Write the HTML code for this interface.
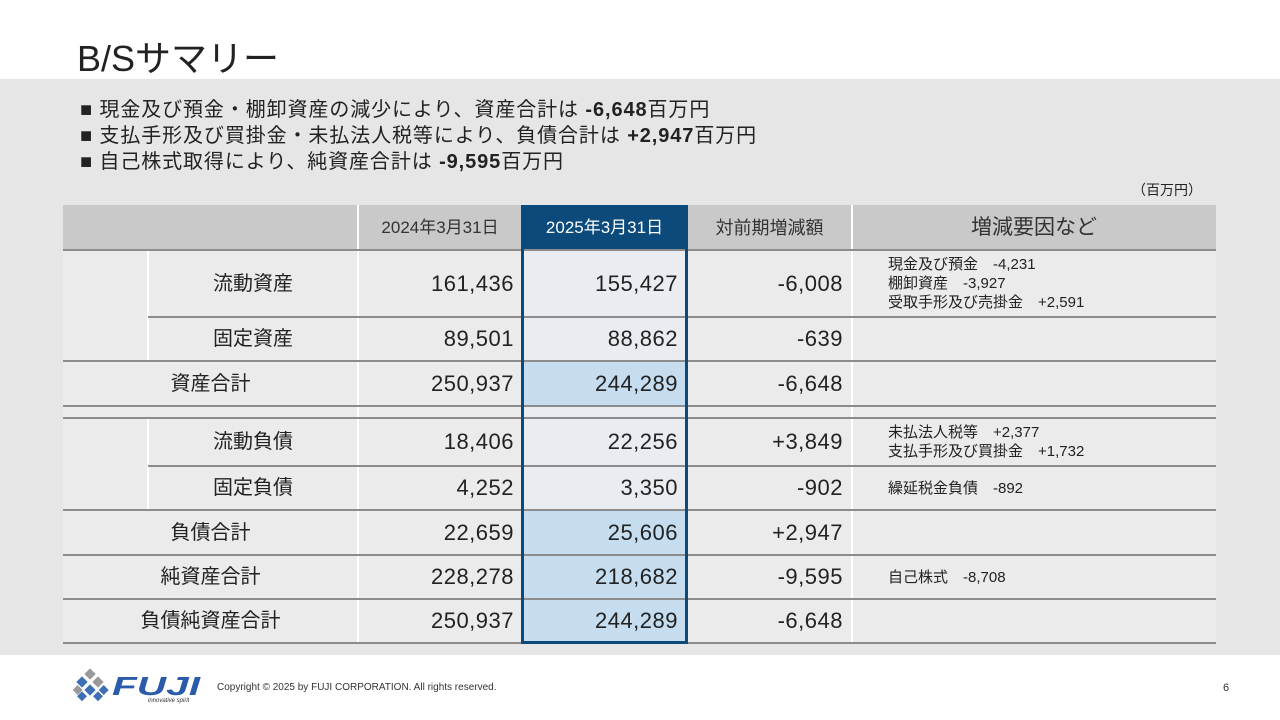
<!DOCTYPE html>
<html><head><meta charset="utf-8">
<style>
body{margin:0;width:1280px;height:720px;background:#fff;position:relative;overflow:hidden;font-family:"Liberation Sans","Noto Sans CJK JP",sans-serif;color:#222}
.a{position:absolute}
.c{position:absolute;box-sizing:border-box;display:flex;align-items:center;font-size:20px;line-height:1}
</style></head><body>
<div class="a" style="left:77px;top:30px;font-size:36px;color:#222">B/Sサマリー</div>
<div class="a" style="left:0;top:79px;width:1280px;height:576px;background:#e6e6e6"></div>
<div class="a" style="left:80px;top:97px;font-size:20px;letter-spacing:0.9px;line-height:26px;color:#222">
<div>■ 現金及び預金・棚卸資産の減少により、資産合計は <b style="font-weight:600">-6,648</b>百万円</div>
<div>■ 支払手形及び買掛金・未払法人税等により、負債合計は <b style="font-weight:600">+2,947</b>百万円</div>
<div>■ 自己株式取得により、純資産合計は <b style="font-weight:600">-9,595</b>百万円</div>
</div>
<div class="a" style="left:1132px;top:180px;font-size:14px">（百万円）</div>
<div id="tbl"></div>
<div class="a" style="left:72px;top:668px;width:130px;height:36px">
<svg width="130" height="36">
<g fill="#3c6fb4"><rect x="14" y="2" width="8" height="8" transform="rotate(45 18 6)" fill="#999"/><rect x="6" y="10" width="8" height="8" transform="rotate(45 10 14)"/><rect x="22" y="10" width="8" height="8" transform="rotate(45 26 14)" fill="#999"/><rect x="14" y="18" width="8" height="8" transform="rotate(45 18 22)"/><rect x="2" y="18" width="7" height="7" transform="rotate(45 5 22)" fill="#999"/><rect x="28" y="18" width="7" height="7" transform="rotate(45 31 22)"/><rect x="6" y="25" width="7" height="7" transform="rotate(45 10 29)"/><rect x="22" y="25" width="7" height="7" transform="rotate(45 26 29)"/></g>
<text x="40" y="27" font-size="26" font-weight="bold" font-style="italic" fill="#2a5caa" font-family="Liberation Sans" textLength="88" lengthAdjust="spacingAndGlyphs">FUJI</text>
<text x="76" y="34" font-size="6" font-style="italic" fill="#333" font-family="Liberation Sans">innovative spirit</text>
</svg></div>
<div class="a" style="left:217px;top:682px;font-size:10px;color:#333">Copyright © 2025 by FUJI CORPORATION. All rights reserved.</div>
<div class="a" style="left:1223px;top:682px;font-size:11px;color:#333">6</div>
<script>
const cols=[63,148,358,522,687,852,1216];
const headers=["","2024年3月31日","2025年3月31日","対前期増減額","増減要因など"];
const labels=["流動資産","固定資産","資産合計","","流動負債","固定負債","負債合計","純資産合計","負債純資産合計"];
const v2024=["161,436","89,501","250,937","","18,406","4,252","22,659","228,278","250,937"];
const v2025=["155,427","88,862","244,289","","22,256","3,350","25,606","218,682","244,289"];
const diffs=["-6,008","-639","-6,648","","+3,849","-902","+2,947","-9,595","-6,648"];
const factors=[["現金及び預金　-4,231","棚卸資産　-3,927","受取手形及び売掛金　+2,591"],[],[],[],["未払法人税等　+2,377","支払手形及び買掛金　+1,732"],["繰延税金負債　-892"],[],["自己株式　-8,708"],[]];
const sub=[1,1,0,2,1,1,0,0,0];
const rowY=[250,317,361,406,418,466,510,555,599,643];
const T=document.getElementById('tbl');
function d(style,text,name){const e=document.createElement('div');e.className='c';e.style.cssText=style;if(text!==undefined)e.textContent=text;


T.appendChild(e);return e;}
d(`left:63px;top:205px;width:1153px;height:45px;background:#c9c9c9`,undefined,'header-row');
headers.forEach((h,i)=>{const x0=i==0?cols[0]:cols[i+1],x1=cols[i+2];
d(`left:${x0}px;top:205px;width:${x1-x0}px;height:45px;justify-content:center;font-size:${i==4?21:(i==3?18:17)}px;${i==2?'background:#0b4a7a;color:#fff;':'color:#333;'}`,h,'header-cell');});
labels.forEach((l,r)=>{const y=rowY[r],h=rowY[r+1]-y;
const s=sub[r];
d(`left:63px;top:${y}px;width:1153px;height:${h}px;background:#ebebeb`,undefined,'row-bg');
if(s==2){return;}
if(s==1) d(`left:148px;top:${y}px;width:210px;height:${h}px;justify-content:center`,l,'row-label');
else d(`left:63px;top:${y}px;width:295px;height:${h}px;justify-content:center`,l,'row-label');
d(`left:358px;top:${y}px;width:164px;height:${h}px;justify-content:flex-end;padding-right:8px;font-size:22px;letter-spacing:0.5px`,v2024[r],'value-2024');
d(`left:522px;top:${y}px;width:165px;height:${h}px;justify-content:flex-end;padding-right:9px;font-size:22px;letter-spacing:0.5px;background:${s==1?'#e9edf1':'#c5ddef'}`,v2025[r],'value-2025');
d(`left:687px;top:${y}px;width:165px;height:${h}px;justify-content:flex-end;padding-right:9px;font-size:22px;letter-spacing:0.5px`,diffs[r],'value-diff');
if(factors[r].length){const e=d(`left:852px;top:${y}px;width:364px;height:${h}px;padding-left:36px;font-size:15px;line-height:19px;flex-direction:column;align-items:flex-start;justify-content:center`,undefined,'factor-cell');
factors[r].forEach(t=>{const q=document.createElement('div');q.textContent=t;


e.appendChild(q);});}
});
d(`left:522px;top:406px;width:165px;height:12px;background:#e9edf1`,undefined,'spacer');
[358,522,687,852].forEach(x=>d(`left:${x-1}px;top:205px;width:2px;height:438px;background:#fff`,undefined,'col-divider'));
[[250,317],[317,361],[418,466],[466,510]].forEach(p=>d(`left:147px;top:${p[0]}px;width:2px;height:${p[1]-p[0]}px;background:#fff`,undefined,'indent-divider'));
rowY.forEach((y,i)=>{const x0=(i==1||i==5)?148:63;d(`left:${x0}px;top:${y-1}px;width:${1216-x0}px;height:2px;background:#8c8c8c`,undefined,'row-line');});
d(`left:521px;top:205px;width:167px;height:439px;border:3px solid #0b4a7a`,undefined,'highlight-frame');
</script>
</body></html>
